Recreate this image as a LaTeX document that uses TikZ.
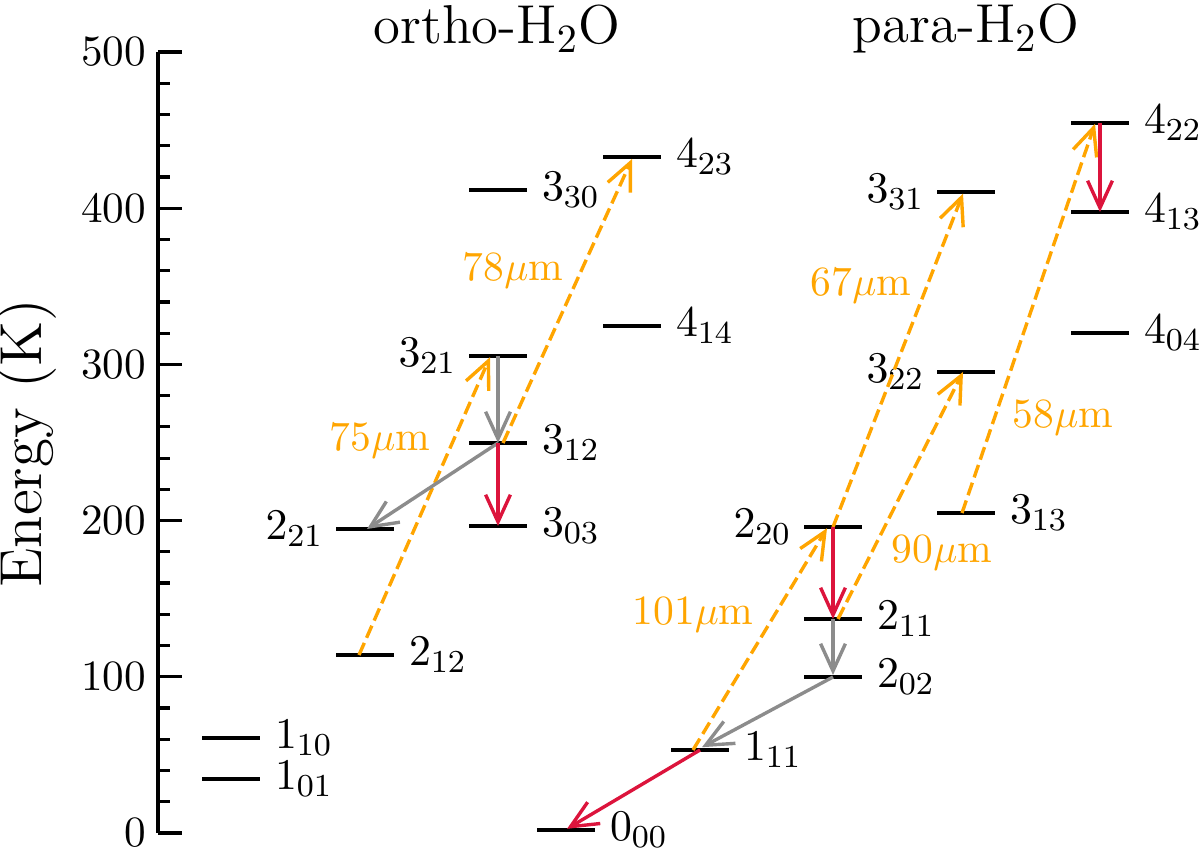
\documentclass[tikz,border=0pt]{standalone}
\usetikzlibrary{arrows.meta}
\definecolor{orng}{HTML}{FFA500}
\definecolor{crim}{HTML}{DC143C}
\definecolor{gry}{HTML}{8C8C8C}
\begin{document}
\begin{tikzpicture}[x=0.25pt,y=-0.25pt,
  lev/.style={inner sep=0pt,minimum width=14pt,minimum height=0pt},
  levline/.style={line width=0.85pt},
  txt/.style={font=\fontsize{11.4}{13}\selectfont,inner sep=0pt},
  rl/.style={txt,anchor=west,xshift=3.6pt},
  ll/.style={txt,anchor=east,xshift=-3pt},
  tip/.style={-{Straight Barb[length=6.8pt,width=6.2pt,line width=0.85pt]}},
  ir/.style={tip,orng,line width=0.85pt,dash pattern=on 3.3pt off 1.4pt},
  gr/.style={tip,gry,line width=0.85pt},
  rd/.style={tip,crim,line width=0.85pt},
  wl/.style={font=\fontsize{10.4}{12}\selectfont,inner sep=0pt,orng}]
\useasboundingbox (0,0) rectangle (1200,853);
% axis
\draw[line width=0.8pt] (158,52) -- (158,833);
\foreach \e in {0,100,...,500}{
  \draw[line width=0.8pt] (158,833-1.562*\e) -- (182,833-1.562*\e);
  \node[font=\fontsize{10.8}{12}\selectfont,inner sep=0pt,anchor=east] (t\e) at (147,833-1.562*\e) {\e};
}
\foreach \e in {20,40,60,80,120,140,160,180,220,240,260,280,320,340,360,380,420,440,460,480}{
  \draw[line width=0.8pt] (158,833-1.562*\e) -- (170,833-1.562*\e);
}
\node[font=\fontsize{14.8}{16}\selectfont,rotate=90] (ylab) at (27,443) {Energy (K)};
% titles
\node[font=\fontsize{13.7}{15}\selectfont,inner sep=0pt] (tortho) at (497,29) {ortho-H$_2$O};
\node[font=\fontsize{13.7}{15}\selectfont,inner sep=0pt] (tpara) at (966,29) {para-H$_2$O};
% levels ortho
\node[lev] (L110) at (231,738) {};
\node[lev] (L101) at (231,779) {};
\node[lev] (L212) at (365,655) {};
\node[lev] (L221) at (365,529) {};
\node[lev] (L303) at (498,526) {};
\node[lev] (L312) at (498,443) {};
\node[lev] (L321) at (498,356) {};
\node[lev] (L330) at (498,190) {};
\node[lev] (L414) at (632,326) {};
\node[lev] (L423) at (632,157) {};
% levels para
\node[lev] (L000) at (566,830) {};
\node[lev] (L111) at (700,750) {};
\node[lev] (L202) at (833,677) {};
\node[lev] (L211) at (833,619) {};
\node[lev] (L220) at (833,527) {};
\node[lev] (L313) at (966,513) {};
\node[lev] (L322) at (966,372) {};
\node[lev] (L331) at (966,192) {};
\node[lev] (L404) at (1100,333) {};
\node[lev] (L413) at (1100,212) {};
\node[lev] (L422) at (1100,123) {};
\foreach \n in {L110,L101,L212,L221,L303,L312,L321,L330,L414,L423,L000,L111,L202,L211,L220,L313,L322,L331,L404,L413,L422}
  \draw[levline] (\n.west) -- (\n.east);
% labels
\node[rl] at (L110.east) {$1_{10}$};
\node[rl] at (L101.east) {$1_{01}$};
\node[rl] at (L212.east) {$2_{12}$};
\node[ll] at (L221.west) {$2_{21}$};
\node[rl] at (L303.east) {$3_{03}$};
\node[rl] at (L312.east) {$3_{12}$};
\node[ll] at (L321.west) {$3_{21}$};
\node[rl] at (L330.east) {$3_{30}$};
\node[rl] at (L414.east) {$4_{14}$};
\node[rl] at (L423.east) {$4_{23}$};
\node[rl] at (L000.east) {$0_{00}$};
\node[rl] at (L111.east) {$1_{11}$};
\node[rl] at (L202.east) {$2_{02}$};
\node[rl] at (L211.east) {$2_{11}$};
\node[ll] at (L220.west) {$2_{20}$};
\node[rl] at (L313.east) {$3_{13}$};
\node[ll] at (L322.west) {$3_{22}$};
\node[ll] at (L331.west) {$3_{31}$};
\node[rl] at (L404.east) {$4_{04}$};
\node[rl] at (L413.east) {$4_{13}$};
\node[rl] at (L422.east) {$4_{22}$};
% IR pumping
\draw[ir] ([xshift=-1.5pt]L212.center) -- ([xshift=-2pt,yshift=-0.3pt]L321.center);
\draw[ir] ([xshift=1.25pt]L312.center) -- ([yshift=-0.5pt]L423.center);
\draw[ir] ([xshift=-1.75pt]L111.center) -- ([xshift=-1.5pt,yshift=-0.3pt]L220.center);
\draw[ir] (L220.center) -- ([xshift=-0.75pt,yshift=-0.4pt]L331.center);
\draw[ir] ([xshift=1.25pt]L211.center) -- ([xshift=-0.75pt]L322.center);
\draw[ir] ([xshift=-1pt]L313.center) -- ([xshift=-1.25pt,yshift=-0.2pt]L422.center);
% cascades
\draw[gr] (L321.center) -- (L312.center);
\draw[gr] (L312.center) -- ([xshift=0.5pt]L221.center);
\draw[rd] (L312.center) -- (L303.center);
\draw[rd] (L220.center) -- (L211.center);
\draw[gr] (L211.center) -- ([yshift=0.5pt]L202.center);
\draw[gr] (L202.center) -- ([xshift=0.5pt,yshift=0.7pt]L111.center);
\draw[rd] (L111.center) -- ([xshift=0.25pt,yshift=0.3pt]L000.center);
\draw[rd] (L422.center) -- (L413.center);
% wavelengths
\node[wl] (w78) at (513,270) {78$\mu$m};
\node[wl] (w75) at (380,440) {75$\mu$m};
\node[wl] (w101) at (693,615) {101$\mu$m};
\node[wl] (w67) at (861,285) {67$\mu$m};
\node[wl] (w90) at (942,553) {90$\mu$m};
\node[wl] (w58) at (1063,418) {58$\mu$m};
\end{tikzpicture}
\end{document}
